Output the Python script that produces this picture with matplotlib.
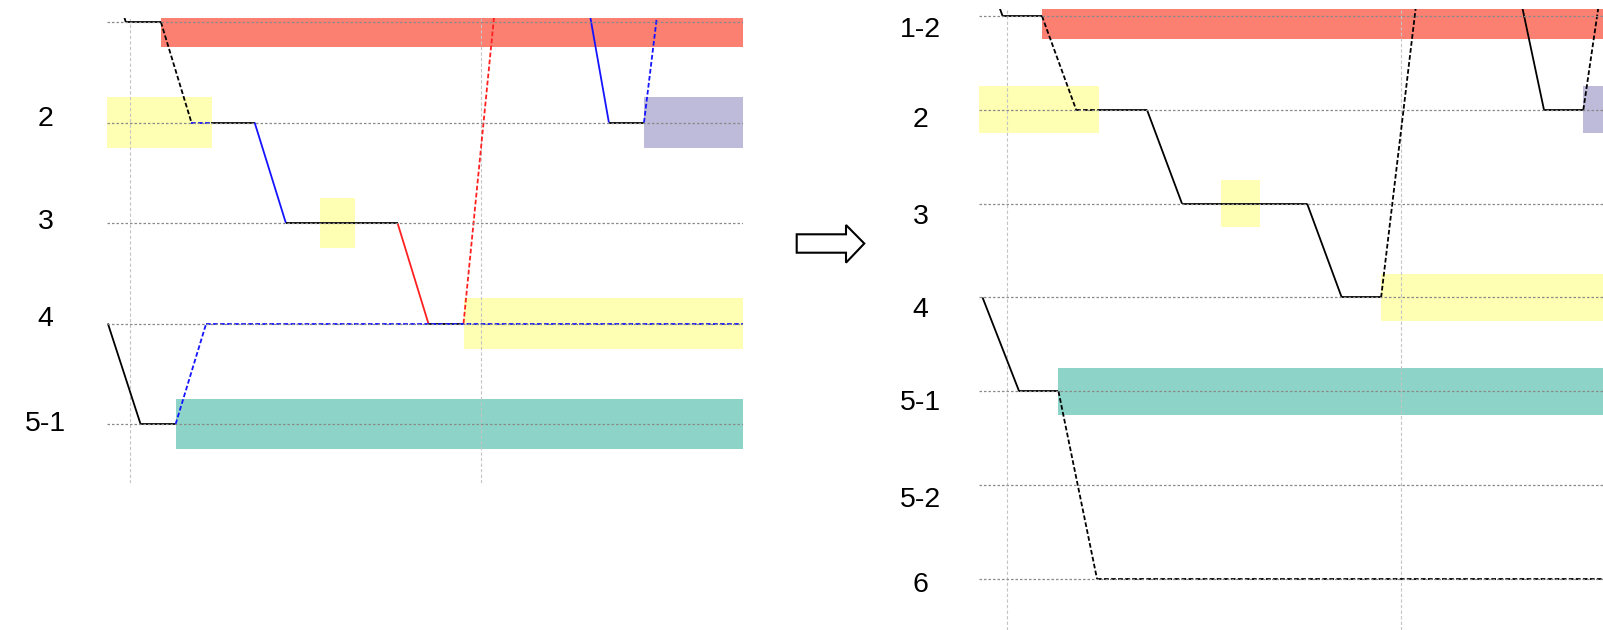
import matplotlib
matplotlib.use("Agg")
import matplotlib.pyplot as plt
from matplotlib.patches import Polygon
from matplotlib.transforms import blended_transform_factory, offset_copy

plt.rcParams['font.family'] = ['Liberation Sans', 'DejaVu Sans']

# ---------------- data ----------------
level_labels = ["1-2", "2", "3", "4", "5-1", "5-2", "6"]
left_label_levels = [1, 2, 3, 4]
right_label_levels = [0, 1, 2, 3, 4, 5, 6]
grid_x = [0, 10]

# path A (main trajectory)
pathA_x = [-1.0, -0.12, 0.88, 1.75, 2.32, 3.55, 4.44, 7.62, 8.5, 9.5, 10.64]
pathA_y = [-1, 0, 0, 1, 1, 1, 2, 2, 3, 3, -1]
pathA_kind_before = ["k", "k", "kd", "bd", "k", "b", "k", "r", "k", "rd"]
pathA_kind_after = ["k", "k", "kd", "kd", "k", "k", "k", "k", "k", "kd"]

# path B (lower branch)
pathB_x_before = [-0.63, 0.3, 1.3, 2.17, 20]
pathB_y_before = [3, 4, 4, 3, 3]
pathB_kind_before = ["k", "k", "bd", "bd"]
pathB_x_after = [-0.63, 0.3, 1.3, 2.28, 20]
pathB_y_after = [3, 4, 4, 6, 6]
pathB_kind_after = ["k", "k", "kd", "kd"]

# path C (upper right branch)
pathC_x = [12.63, 13.64, 14.64, 15.34]
pathC_y = [-1, 1, 1, -1]
pathC_kind_before = ["b", "k", "bd"]
pathC_kind_after = ["k", "k", "kd"]

# shaded blocks
box_levels = [0, 1, 1, 2, 3, 4]
box_start = [0.88, -1, 14.64, 5.42, 9.5, 1.3]
box_end = [20, 2.33, 20, 6.42, 20, 20]
box_colors = ["#FB8072", "#FFFFB3", "#BEBADA", "#FFFFB3", "#FFFFB3", "#8DD3C7"]

# ---------------- style ----------------
KIND = {
    "k": dict(color="black", ls="-"),
    "kd": dict(color="black", ls=(0, (2.6, 1.3))),
    "b": dict(color="#1414ff", ls="-"),
    "bd": dict(color="#1414ff", ls=(0, (2.6, 1.3))),
    "r": dict(color="#ff2020", ls="-"),
    "rd": dict(color="#ff2020", ls=(0, (2.6, 1.3))),
}
# baseline offsets of the level labels below their level line (pixels)
LEFT_LABEL_DROP = {1: 3.2, 2: 5.7, 3: 2.7, 4: 6.7}
RIGHT_LABEL_DROP = {0: 20.9, 1: 16.9, 2: 20.6, 3: 19.5, 4: 18.2, 5: 22.3, 6: 12.9}

W, H = 1603, 630
fig = plt.figure(figsize=(W / 100, H / 100), dpi=100)


def px_axes(x0, y_top, x1, y_bot):
    return fig.add_axes([x0 / W, (H - y_bot) / H, (x1 - x0) / W, (y_bot - y_top) / H])


def draw_path(ax, xs, ys, kinds):
    for i, k in enumerate(kinds):
        st = KIND[k]
        ax.plot(xs[i:i + 2], ys[i:i + 2], color=st["color"], linestyle=st["ls"],
                lw=1.3, zorder=2, solid_capstyle="butt", dash_capstyle="butt")


def setup(ax, xlim, ylim, n_levels, label_levels, label_xfrac, label_drop):
    ax.set_xlim(*xlim)
    ax.set_ylim(*ylim)
    for s in ax.spines.values():
        s.set_visible(False)
    ax.set_xticks([])
    ax.set_yticks([])
    ax.patch.set_alpha(0)
    for lv, s, e, c in zip(box_levels, box_start, box_end, box_colors):
        ax.barh(lv, e - s, left=s, height=0.5, color=c, zorder=1, linewidth=0)
    for gx in grid_x:
        ax.axvline(gx, color="#c4c4c4", lw=0.8, ls=(0, (3, 2)), zorder=1.5)
    for lv in range(n_levels):
        ax.axhline(lv, color="#8a8a8a", lw=0.9, ls=(0, (2, 1.6)), zorder=3)
    base = blended_transform_factory(ax.transAxes, ax.transData)
    for lv in label_levels:
        trans = offset_copy(base, fig=fig, x=0, y=-label_drop[lv], units="dots")
        ax.text(label_xfrac, lv, level_labels[lv], transform=trans,
                ha="center", va="baseline", fontsize=20.5, color="black")


# ---------------- left panel (before) ----------------
axL = px_axes(107, 18, 743, 483)
setup(axL, (-0.655, 17.46), (4.587, -0.04), 5, left_label_levels,
      (45.8 - 107) / 636, LEFT_LABEL_DROP)
draw_path(axL, pathA_x, pathA_y, pathA_kind_before)
draw_path(axL, pathB_x_before, pathB_y_before, pathB_kind_before)
draw_path(axL, pathC_x, pathC_y, pathC_kind_before)

# ---------------- right panel (after) ----------------
axR = px_axes(979, 9, 1603, 630)
setup(axR, (-0.72, 15.14), (6.544, -0.0746), 7, right_label_levels,
      (920.5 - 979) / 624, RIGHT_LABEL_DROP)
draw_path(axR, pathA_x, pathA_y, pathA_kind_after)
draw_path(axR, pathB_x_after, pathB_y_after, pathB_kind_after)
draw_path(axR, pathC_x, pathC_y, pathC_kind_after)

# ---------------- arrow between panels ----------------
arrow_px = [(796.7, 234.3), (846, 234.3), (846, 225), (864.3, 243.5),
            (846, 262.7), (846, 252.7), (796.7, 252.7)]
arrow = Polygon([(x / W, (H - y) / H) for x, y in arrow_px], closed=True,
                transform=fig.transFigure, facecolor="white", edgecolor="black",
                lw=1.5, joinstyle="miter")
fig.patches.append(arrow)

fig.savefig("out.png", dpi=100)
